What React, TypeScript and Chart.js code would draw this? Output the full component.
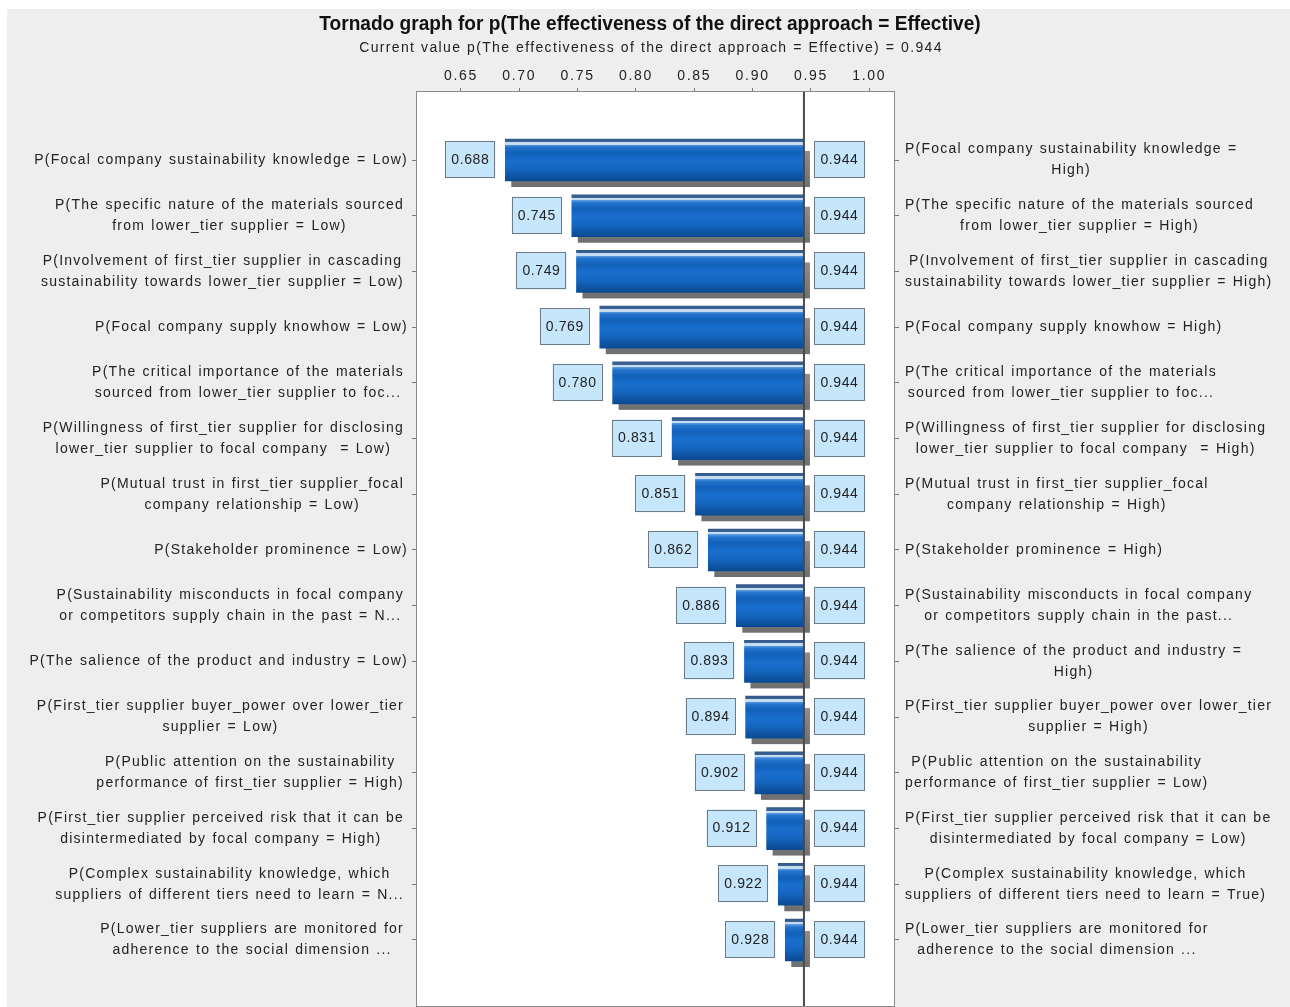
import React, { useEffect, useRef } from 'react';
import { Chart, registerables } from 'chart.js';

Chart.register(...registerables);

// ---------- data ----------
const TITLE = 'Tornado graph for p(The effectiveness of the direct approach = Effective)';
const SUBTITLE = 'Current value p(The effectiveness of the direct approach = Effective) = 0.944';
const CURRENT_VALUE = 0.944;

const xTickValues = [0.65, 0.7, 0.75, 0.8, 0.85, 0.9, 0.95, 1.0];

const lowValues = [0.688, 0.745, 0.749, 0.769, 0.78, 0.831, 0.851, 0.862, 0.886, 0.893, 0.894, 0.902, 0.912, 0.922, 0.928];
const highValues = [0.944, 0.944, 0.944, 0.944, 0.944, 0.944, 0.944, 0.944, 0.944, 0.944, 0.944, 0.944, 0.944, 0.944, 0.944];

const lowLabels: string[][] = [
  ['P(Focal company sustainability knowledge = Low)'],
  ['P(The specific nature of the materials sourced', 'from lower_tier supplier = Low)'],
  ['P(Involvement of first_tier supplier in cascading', 'sustainability towards lower_tier supplier = Low)'],
  ['P(Focal company supply knowhow = Low)'],
  ['P(The critical importance of the materials', 'sourced from lower_tier supplier to foc...'],
  ['P(Willingness of first_tier supplier for disclosing', 'lower_tier supplier to focal company  = Low)'],
  ['P(Mutual trust in first_tier supplier_focal', 'company relationship = Low)'],
  ['P(Stakeholder prominence = Low)'],
  ['P(Sustainability misconducts in focal company', 'or competitors supply chain in the past = N...'],
  ['P(The salience of the product and industry = Low)'],
  ['P(First_tier supplier buyer_power over lower_tier', 'supplier = Low)'],
  ['P(Public attention on the sustainability', 'performance of first_tier supplier = High)'],
  ['P(First_tier supplier perceived risk that it can be', 'disintermediated by focal company = High)'],
  ['P(Complex sustainability knowledge, which', 'suppliers of different tiers need to learn = N...'],
  ['P(Lower_tier suppliers are monitored for', 'adherence to the social dimension ...'],
];

const highLabels: string[][] = [
  ['P(Focal company sustainability knowledge =', 'High)'],
  ['P(The specific nature of the materials sourced', 'from lower_tier supplier = High)'],
  ['P(Involvement of first_tier supplier in cascading', 'sustainability towards lower_tier supplier = High)'],
  ['P(Focal company supply knowhow = High)'],
  ['P(The critical importance of the materials', 'sourced from lower_tier supplier to foc...'],
  ['P(Willingness of first_tier supplier for disclosing', 'lower_tier supplier to focal company  = High)'],
  ['P(Mutual trust in first_tier supplier_focal', 'company relationship = High)'],
  ['P(Stakeholder prominence = High)'],
  ['P(Sustainability misconducts in focal company', 'or competitors supply chain in the past...'],
  ['P(The salience of the product and industry =', 'High)'],
  ['P(First_tier supplier buyer_power over lower_tier', 'supplier = High)'],
  ['P(Public attention on the sustainability', 'performance of first_tier supplier = Low)'],
  ['P(First_tier supplier perceived risk that it can be', 'disintermediated by focal company = Low)'],
  ['P(Complex sustainability knowledge, which', 'suppliers of different tiers need to learn = True)'],
  ['P(Lower_tier suppliers are monitored for', 'adherence to the social dimension ...'],
];

// ---------- layout / style ----------
const X_MIN = 0.6123;
const X_MAX = 1.0212;
const Y_MIN = -1.2206;
const Y_MAX = 15.185;
const BAR_THICKNESS = 42;
const FONT = '"Liberation Sans", Arial, sans-serif';
const TEXT_COLOR = '#222222';
const LINE_GAP = 21;

function barFill(c: any) {
  const chart = c.chart;
  const ys = chart.scales && chart.scales.y;
  if (!ys || c.dataIndex === undefined) return '#1565c2';
  const yc = ys.getPixelForValue(c.dataIndex);
  if (!Number.isFinite(yc)) return '#1565c2';
  const h = BAR_THICKNESS;
  const top = yc - h / 2;
  const g = chart.ctx.createLinearGradient(0, top, 0, top + h);
  const s = (px: number, col: string) => g.addColorStop(Math.min(1, Math.max(0, px / h)), col);
  s(0, '#34588a');
  s(3, '#3d6597');
  s(3, '#c6dcf1');
  s(5.5, '#c6dcf1');
  s(5.5, '#5e9de0');
  s(8, '#2474cc');
  s(14, '#1160b9');
  s(22, '#1a6fcd');
  s(30, '#1566c0');
  s(37, '#0f55a5');
  s(42, '#0b4a91');
  return g;
}

function drawBlock(ctx: CanvasRenderingContext2D, lines: string[], anchorX: number, yc: number, side: 'left' | 'right') {
  const widths = lines.map((l) => ctx.measureText(l).width);
  const bw = Math.max(...widths);
  const cx = side === 'left' ? anchorX - bw / 2 : anchorX + bw / 2;
  ctx.textAlign = 'center';
  ctx.textBaseline = 'middle';
  lines.forEach((l, k) => {
    ctx.fillText(l, cx, yc + (k - (lines.length - 1) / 2) * LINE_GAP);
  });
}

function drawBox(ctx: CanvasRenderingContext2D, x: number, y: number, w: number, h: number, text: string) {
  ctx.fillStyle = '#c6e6fb';
  ctx.fillRect(x, y, w, h);
  ctx.strokeStyle = '#6d7b86';
  ctx.lineWidth = 1;
  ctx.strokeRect(Math.round(x) + 0.5, Math.round(y) + 0.5, Math.round(w) - 1, Math.round(h) - 1);
  ctx.fillStyle = TEXT_COLOR;
  ctx.textAlign = 'center';
  ctx.textBaseline = 'middle';
  ctx.fillText(text, x + w / 2, y + h / 2 + 0.5);
}

const tornadoPlugin = {
  id: 'tornadoDecor',
  beforeDraw(chart: any) {
    const { ctx, chartArea: a, width } = chart;
    ctx.save();
    ctx.fillStyle = '#eeeeee';
    ctx.fillRect(0, 0, width, chart.height);
    ctx.fillStyle = '#ffffff';
    ctx.fillRect(a.left, a.top, a.right - a.left, a.bottom - a.top);
    ctx.fillStyle = '#111111';
    ctx.textAlign = 'center';
    ctx.textBaseline = 'middle';
    ctx.letterSpacing = '0px';
    ctx.font = 'bold 20px "Liberation Sans Narrow", "Arial Narrow", "Liberation Sans", sans-serif';
    ctx.save();
    ctx.translate(643, 15);
    ctx.scale(0.955, 1);
    ctx.fillText(TITLE, 0, 0);
    ctx.restore();
    ctx.font = '14px ' + FONT;
    ctx.letterSpacing = '1.35px';
    ctx.wordSpacing = '0.5px';
    ctx.fillStyle = TEXT_COLOR;
    ctx.fillText(SUBTITLE, 644, 39);
    ctx.restore();
    ctx.letterSpacing = '1.7px';
  },
  beforeDatasetsDraw(chart: any) {
    const { ctx } = chart;
    const meta = chart.getDatasetMeta(0);
    ctx.save();
    meta.data.forEach((el: any) => {
      if (!Number.isFinite(el.y) || !Number.isFinite(el.base) || !Number.isFinite(el.x)) return;
      const left = Math.min(el.base, el.x);
      const right = Math.max(el.base, el.x);
      const top = el.y - BAR_THICKNESS / 2 + 12;
      const bottom = el.y + BAR_THICKNESS / 2 + 6;
      const g = ctx.createLinearGradient(0, top, 0, bottom);
      g.addColorStop(0, '#8d8d8d');
      g.addColorStop(1, '#6f6f6f');
      ctx.fillStyle = g;
      ctx.fillRect(left + 6, top, right - left, bottom - top);
    });
    ctx.restore();
  },
  afterDatasetsDraw(chart: any) {
    const { ctx, chartArea: a } = chart;
    const xs = chart.scales.x;
    const meta = chart.getDatasetMeta(0);
    ctx.save();
    const lx = xs.getPixelForValue(CURRENT_VALUE);
    ctx.strokeStyle = '#4a4a4a';
    ctx.lineWidth = 2;
    ctx.beginPath();
    ctx.moveTo(lx, a.top);
    ctx.lineTo(lx, a.bottom);
    ctx.stroke();
    ctx.strokeStyle = '#8a8a8a';
    ctx.lineWidth = 1;
    ctx.strokeRect(Math.round(a.left) - 0.5, Math.round(a.top) - 0.5, Math.round(a.right - a.left) + 1, Math.round(a.bottom - a.top) + 1);
    ctx.font = '14px ' + FONT;
    ctx.letterSpacing = '0.6px';
    ctx.wordSpacing = '0px';
    meta.data.forEach((el: any, i: number) => {
      const loX = xs.getPixelForValue(lowValues[i]);
      const hiX = xs.getPixelForValue(highValues[i]);
      const top = el.y - 19;
      drawBox(ctx, loX - 10 - 50, top, 50, 37, lowValues[i].toFixed(3));
      drawBox(ctx, hiX + 10, top, 51, 37, highValues[i].toFixed(3));
    });
    ctx.restore();
  },
  afterDraw(chart: any) {
    const { ctx, chartArea: a } = chart;
    const ys = chart.scales.y;
    ctx.save();
    ctx.font = '14px ' + FONT;
    ctx.letterSpacing = '1.25px';
    ctx.wordSpacing = '1px';
    ctx.fillStyle = TEXT_COLOR;
    lowLabels.forEach((lines, i) => {
      const yc = ys.getPixelForValue(i);
      drawBlock(ctx, lines, a.left - (lines.length > 1 ? 13 : 9), yc, 'left');
    });
    highLabels.forEach((lines, i) => {
      const yc = ys.getPixelForValue(i);
      drawBlock(ctx, lines, a.right + 11, yc, 'right');
    });
    ctx.restore();
    ctx.letterSpacing = '0px';
    ctx.wordSpacing = '0px';
  },
};

export default function App() {
  const ref = useRef<HTMLCanvasElement | null>(null);

  useEffect(() => {
    document.body.style.overflow = 'hidden';
    const canvas = ref.current;
    if (!canvas) return;
    const rowTicks = () => lowValues.map((_, i) => ({ value: i }));
    let chart: any = null;
    try {
      chart = new Chart(canvas, {
        type: 'bar',
        data: {
          datasets: [
            {
              label: 'Tornado',
              data: lowValues.map((lo, i) => ({ x: [lo, highValues[i]], y: i })) as any,
              backgroundColor: barFill as any,
              borderWidth: 0,
              borderSkipped: false,
              barThickness: BAR_THICKNESS,
              yAxisID: 'y',
              xAxisID: 'x',
            },
          ],
        },
        options: {
          indexAxis: 'y',
          animation: false,
          responsive: true,
          maintainAspectRatio: false,
          events: [],
          layout: { padding: { top: 47, bottom: 1, left: 0, right: 0 } },
          plugins: {
            legend: { display: false },
            tooltip: { enabled: false },
            title: { display: false },
          },
          scales: {
            x: {
              type: 'linear',
              position: 'top',
              min: X_MIN,
              max: X_MAX,
              afterBuildTicks: (s: any) => {
                s.ticks = xTickValues.map((v) => ({ value: v }));
              },
              afterFit: (s: any) => {
                s.height = 36;
              },
              ticks: {
                callback: (v: any) => Number(v).toFixed(2),
                font: { size: 14, family: FONT },
                color: TEXT_COLOR,
                padding: 3,
                maxRotation: 0,
                autoSkip: false,
              },
              grid: { drawOnChartArea: false, tickLength: 4, tickColor: '#777777', color: '#777777' },
              border: { display: false },
            },
            y: {
              type: 'linear',
              position: 'left',
              reverse: true,
              offset: false,
              min: Y_MIN,
              max: Y_MAX,
              afterBuildTicks: (s: any) => {
                s.ticks = rowTicks();
              },
              afterFit: (s: any) => {
                s.width = 410;
              },
              ticks: { display: false },
              grid: { offset: false, drawOnChartArea: false, tickLength: 5, tickColor: '#777777', color: '#777777' },
              border: { display: false },
            },
            y2: {
              type: 'linear',
              position: 'right',
              reverse: true,
              offset: false,
              min: Y_MIN,
              max: Y_MAX,
              afterBuildTicks: (s: any) => {
                s.ticks = rowTicks();
              },
              afterFit: (s: any) => {
                s.width = 396;
              },
              ticks: { display: false },
              grid: { offset: false, drawOnChartArea: false, tickLength: 5, tickColor: '#777777', color: '#777777' },
              border: { display: false },
            },
          },
        },
        plugins: [tornadoPlugin],
      });
    } catch (e) {
      console.error(e);
    }
    return () => {
      if (chart) chart.destroy();
    };
  }, []);

  return (
    <div style={{ position: 'absolute', left: 7, top: 9, width: 1283, height: 998, background: '#eeeeee' }}>
      <canvas ref={ref} />
    </div>
  );
}
